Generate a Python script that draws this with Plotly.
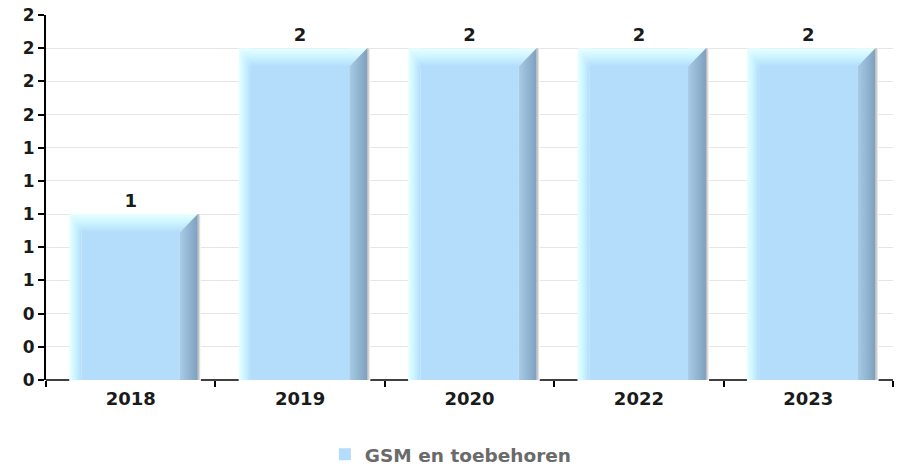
import plotly.graph_objects as go

# Data
years = ["2018", "2019", "2020", "2022", "2023"]
values = [1, 2, 2, 2, 2]
series_name = "GSM en toebehoren"
y_tick_vals = [0.0, 0.2, 0.4, 0.6, 0.8, 1.0, 1.2, 1.4, 1.6, 1.8, 2.0, 2.2]

# Styling
FACE = "rgb(179,221,251)"
GLOW = "rgb(232,255,255)"
GLOW_MID = "rgb(205,245,255)"
SIDE_LIGHT = "rgb(168,204,232)"
SIDE_DARK = "rgb(126,160,190)"
FONT = "DejaVu Sans"
Y_MAX = 2.2

# bar geometry in category units (1 unit = one category slot)
FACE_HALF = 0.29      # half width of the front face
GLOW_W = 0.072        # width of the left bevel
SIDE_W = 0.106        # width of the right side
SHADOW_W = 0.018      # thin shadow to the right of the side
BEVEL_H = 0.05 * Y_MAX  # height of the top bevel in data units

xs = list(range(len(years)))

fig = go.Figure()

# front face of every bar (also carries legend entry and value labels)
fig.add_trace(go.Bar(
    x=xs, y=values, width=2 * FACE_HALF,
    marker=dict(color=FACE, line=dict(width=0)),
    name=series_name,
    text=[str(v) for v in values], textposition="outside",
    textfont=dict(family=FONT, size=18, color="#1a1a1a", weight="bold"),
    cliponaxis=False,
    hoverinfo="x+y",
))


def poly(px, py, gtype, scale):
    fig.add_trace(go.Scatter(
        x=px + [px[0]], y=py + [py[0]], mode="lines", fill="toself",
        line=dict(width=0), fillcolor=FACE,
        fillgradient=dict(type=gtype, colorscale=scale),
        showlegend=False, hoverinfo="skip",
    ))


for x, v in zip(xs, values):
    xl_in, xr_in = x - FACE_HALF, x + FACE_HALF
    xl_out, xr_out = xl_in - GLOW_W, xr_in + SIDE_W
    top, inner_top = v, v - BEVEL_H
    # left bevel
    poly([xl_out, xl_out, xl_in, xl_in], [0, top, inner_top, 0], "horizontal",
         [[0, GLOW], [0.45, GLOW_MID], [1, FACE]])
    # top bevel
    poly([xl_out, xr_out, xr_in, xl_in], [top, top, inner_top, inner_top], "vertical",
         [[0, FACE], [0.55, GLOW_MID], [1, GLOW]])
    # right side
    poly([xr_in, xr_in, xr_out, xr_out], [0, inner_top, top, 0], "horizontal",
         [[0, SIDE_LIGHT], [1, SIDE_DARK]])
    # soft shadow
    poly([xr_out, xr_out, xr_out + SHADOW_W, xr_out + SHADOW_W], [0, top, top, 0], "horizontal",
         [[0, "rgb(175,175,175)"], [1, "rgb(255,255,255)"]])

# baseline segments between the bars
n = len(xs)
seg = [(-0.5, xs[0] - FACE_HALF - GLOW_W)]
for i in range(n - 1):
    seg.append((xs[i] + FACE_HALF + SIDE_W + SHADOW_W, xs[i + 1] - FACE_HALF - GLOW_W))
seg.append((xs[-1] + FACE_HALF + SIDE_W + SHADOW_W, n - 0.5))
shapes = [dict(type="line", xref="x", yref="paper", x0=a, x1=b, y0=0, y1=0,
               line=dict(color="black", width=1.5), layer="below") for a, b in seg]

boundaries = [i - 0.5 for i in range(n + 1)]

fig.update_layout(
    width=903, height=466,
    margin=dict(l=46, r=10, t=15, b=86, autoexpand=False),
    paper_bgcolor="white", plot_bgcolor="white",
    barmode="overlay",
    shapes=shapes,
    font=dict(family=FONT, size=17, color="#1a1a1a"),
    xaxis=dict(
        range=[-0.5, n - 0.5],
        tickmode="array", tickvals=xs, ticktext=years, ticks="",
        ticklabelstandoff=6,
        tickfont=dict(family=FONT, size=18, color="#1a1a1a", weight="bold"),
        showline=False, showgrid=False, zeroline=False,
        minor=dict(tickmode="array", tickvals=boundaries, ticks="outside",
                   ticklen=6, tickwidth=1.5, tickcolor="black", showgrid=False),
        layer="below traces", fixedrange=True,
    ),
    yaxis=dict(
        range=[0, Y_MAX],
        tickmode="array", tickvals=y_tick_vals, tickformat=".0f",
        ticks="outside", ticklen=6, tickwidth=1.5, tickcolor="black",
        tickfont=dict(family=FONT, size=17, color="#1a1a1a", weight="bold"),
        showline=True, linecolor="black", linewidth=2,
        showgrid=True, gridcolor="rgb(230,230,230)", gridwidth=1,
        zeroline=False, layer="below traces", fixedrange=True,
    ),
    legend=dict(
        orientation="h", x=0.478, xanchor="center", y=-0.205, yanchor="middle",
        font=dict(family=FONT, size=18.5, color="#6a6a6a", weight="bold"),
    ),
    showlegend=True,
)

fig.write_html("out.html")
